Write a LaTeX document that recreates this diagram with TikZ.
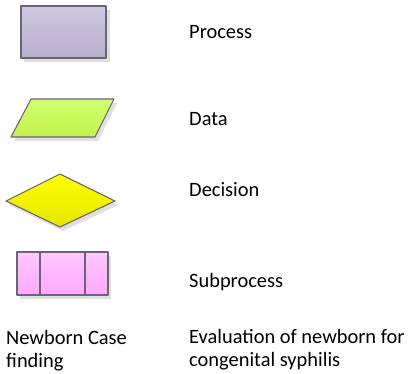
\documentclass[tikz,border=0pt]{standalone}
\usepackage{fontspec}
\setmainfont{Carlito}
\usetikzlibrary{shadows}
\definecolor{procTop}{HTML}{CFC8E0}
\definecolor{procBot}{HTML}{B8AFCD}
\definecolor{dataTop}{HTML}{D2FF70}
\definecolor{dataBot}{HTML}{C2F24E}
\definecolor{decTop}{HTML}{FFFF00}
\definecolor{decBot}{HTML}{E6E600}
\definecolor{subTop}{HTML}{FFC8FF}
\definecolor{subBot}{HTML}{FFA8FF}
\definecolor{edge}{HTML}{6A6474}
\tikzset{
  shape line/.style={draw=edge, line width=1.1pt, line join=round},
  shade box/.style={fill=black!12},
  lbl/.style={anchor=west, inner sep=0pt, font=\fontsize{20.5}{22.5}\selectfont, align=left}
}
\begin{document}
\begin{tikzpicture}[x=1bp,y=-1bp]
\useasboundingbox (0,0) rectangle (417,374);
% Process
\fill[shade box] (24,10) rectangle (110,62);
\shade[top color=procTop, bottom color=procBot] (21,6) rectangle (106,58);
\draw[shape line] (21,6) rectangle (106,58);
% Data
\fill[shade box] (34,103) -- (117,103) -- (98,141) -- (14,141) -- cycle;
\shade[top color=dataTop, bottom color=dataBot] (31,99) -- (114,99) -- (95,137) -- (11,137) -- cycle;
\draw[shape line] (31,99) -- (114,99) -- (95,137) -- (11,137) -- cycle;
% Decision
\fill[shade box] (9,205) -- (63,178) -- (118,205) -- (63,231) -- cycle;
\shade[top color=decTop, bottom color=decBot] (6,201) -- (60,174) -- (115,201) -- (60,227) -- cycle;
\draw[shape line] (6,201) -- (60,174) -- (115,201) -- (60,227) -- cycle;
% Subprocess
\fill[shade box] (20,256) rectangle (111,299);
\shade[top color=subTop, bottom color=subBot] (17,252) rectangle (108,295);
\draw[shape line] (17,252) rectangle (108,295);
\draw[shape line] (40,252) -- (40,295);
\draw[shape line] (85,252) -- (85,295);
% Labels
\node[lbl] (p) at (189,32) {Process};
\node[lbl] (d) at (189,119) {Data};
\node[lbl] (dc) at (189,190) {Decision};
\node[lbl] (s) at (189,282) {Subprocess};
\node[lbl] (n) at (6,350.5) {Newborn Case\\finding};
\node[lbl] (e) at (189,349.5) {Evaluation of newborn for\\congenital syphilis};
\end{tikzpicture}
\end{document}
